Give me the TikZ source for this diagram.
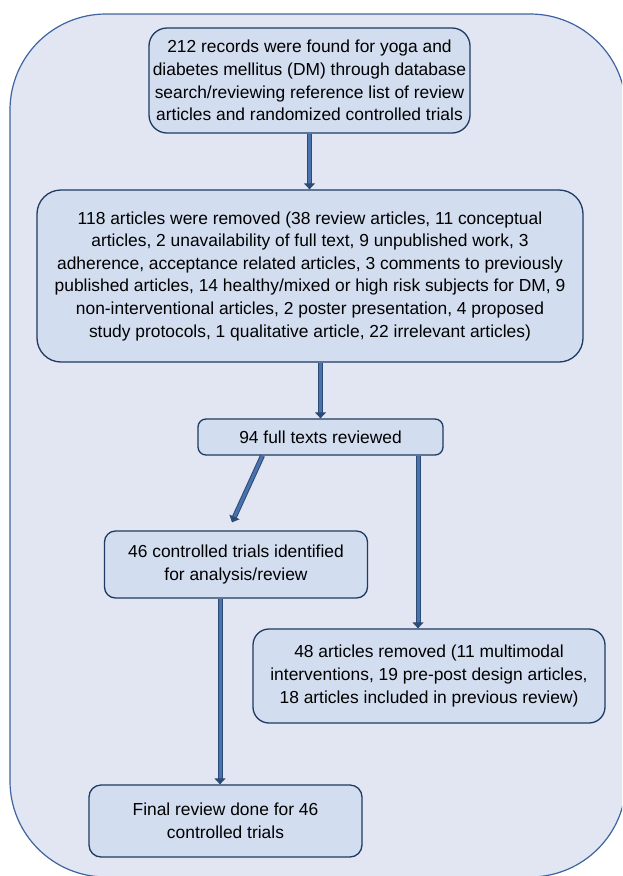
\documentclass[tikz,border=0pt]{standalone}
\usepackage{fontspec}
\setmainfont{Liberation Sans}
\usetikzlibrary{arrows.meta}
\definecolor{OuterFill}{HTML}{E1E6F2}
\definecolor{OuterLine}{HTML}{3D64A0}
\definecolor{BoxFill}{HTML}{D2DDF0}
\definecolor{BoxLine}{HTML}{1F3B63}
\definecolor{ArrowEdge}{HTML}{2B4A75}
\definecolor{ArrowFill}{HTML}{4A72AC}
\tikzset{
    stagebox/.style={draw=BoxLine, fill=BoxFill, line width=1.3pt, inner sep=0pt,
        align=center, font=\fontsize{17.4}{22.6}\selectfont},
    flowarrow/.style={draw=ArrowEdge, line width=1pt, double=ArrowFill,
        double distance=3pt, -{Triangle[length=6pt, width=11pt]}}
}

\begin{document}
\begin{tikzpicture}[x=1pt, y=-1pt]

    \clip (0, 0) rectangle (622, 876);
    \fill[white] (0, 0) rectangle (622, 876);

    % Fondo redondeado que envuelve todo el diagrama.
    \draw[OuterLine, fill=OuterFill, line width=1.2pt, rounded corners=96pt]
    (10, 14) rectangle (626, 877);

    \node[stagebox, minimum width=321pt, minimum height=105pt, rounded corners=18pt]
    (records) at (309.5, 80.5)
    {212 records were found for yoga and\\
    diabetes mellitus (DM) through database\\
    search/reviewing reference list of review\\
    articles and randomized controlled trials};

    \node[stagebox, minimum width=546pt, minimum height=172pt, rounded corners=24pt]
    (removed) at (310, 276)
    {118 articles were removed (38 review articles, 11 conceptual\\
    articles, 2 unavailability of full text, 9 unpublished work, 3\\
    adherence, acceptance related articles, 3 comments to previously\\
    published articles, 14 healthy/mixed or high risk subjects for DM, 9\\
    non-interventional articles, 2 poster presentation, 4 proposed\\
    study protocols, 1 qualitative article, 22 irrelevant articles)};

    \node[stagebox, minimum width=245pt, minimum height=36pt, rounded corners=8pt]
    (fulltexts) at (320.5, 437) {94 full texts reviewed};

    \node[stagebox, minimum width=263pt, minimum height=67pt, rounded corners=11pt]
    (trials) at (236, 564.5)
    {46 controlled trials identified\\
    for analysis/review};

    \node[stagebox, minimum width=352pt, minimum height=94pt, rounded corners=16pt]
    (excluded) at (429, 676)
    {48 articles removed (11 multimodal\\
    interventions, 19 pre-post design articles,\\
    18 articles included in previous review)};

    \node[stagebox, minimum width=273pt, minimum height=72pt, rounded corners=12pt]
    (final) at (225.5, 821)
    {Final review done for 46\\
    controlled trials};

    \draw[flowarrow] (records.south) -- (records.south |- removed.north);
    \draw[flowarrow] (removed.south -| fulltexts.north) -- (fulltexts.north);
    \draw[flowarrow] ([xshift=-58pt]fulltexts.south)
    -- ([xshift=-4pt, yshift=8pt]trials.north);
    \draw[flowarrow] ([xshift=-11pt]excluded.north |- fulltexts.south)
    -- ([xshift=-11pt]excluded.north);
    \draw[flowarrow] ([xshift=-5.5pt]final.north |- trials.south)
    -- ([xshift=-5.5pt]final.north);
\end{tikzpicture}
\end{document}
